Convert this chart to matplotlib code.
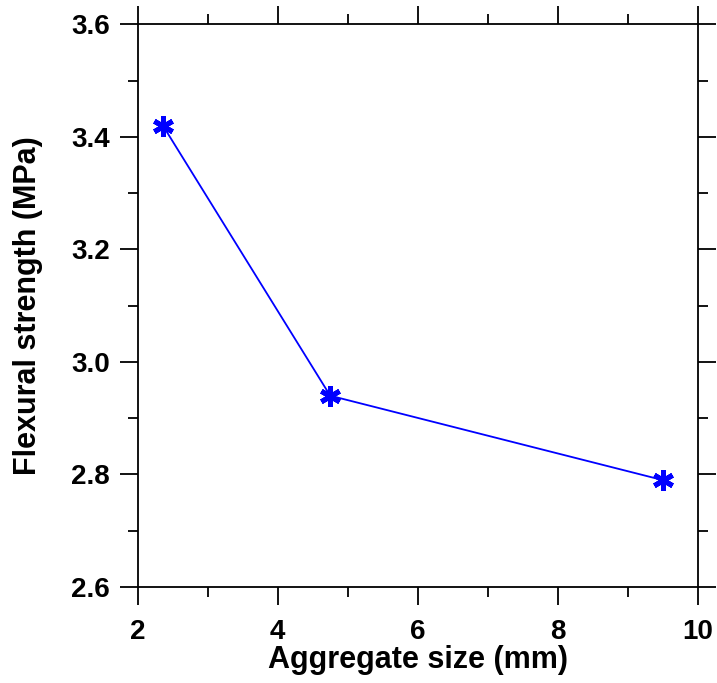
import matplotlib
matplotlib.use("Agg")
import matplotlib.pyplot as plt
from matplotlib.markers import MarkerStyle
from matplotlib.ticker import MultipleLocator, FormatStrFormatter

# aggregate size (mm) vs flexural strength (MPa)
agg_size = [2.36, 4.75, 9.5]
flex_strength = [3.42, 2.94, 2.79]

plt.rcParams['font.family'] = ['Liberation Sans', 'DejaVu Sans']
plt.rcParams['font.weight'] = 'bold'

fig = plt.figure(figsize=(7.17, 6.83), dpi=100)
# axes box in pixels: left 137.7, right 697.7, top 24.3, bottom 587
ax = fig.add_axes([137.7 / 717, (683 - 587) / 683, 560 / 717, 562.7 / 683])

star = MarkerStyle((6, 2, 0), capstyle='round')
ax.plot(agg_size, flex_strength, color='blue', linewidth=1.3,
        marker=star, markersize=15, markeredgewidth=3.6,
        markeredgecolor='blue', markerfacecolor='blue')

ax.set_xlim(2, 10)
ax.set_ylim(2.6, 3.6)
ax.xaxis.set_major_locator(MultipleLocator(2))
ax.xaxis.set_minor_locator(MultipleLocator(1))
ax.yaxis.set_major_locator(MultipleLocator(0.2))
ax.yaxis.set_minor_locator(MultipleLocator(0.1))
ax.yaxis.set_major_formatter(FormatStrFormatter('%.1f'))

for s in ax.spines.values():
    s.set_linewidth(1.3)

ax.tick_params(which='both', direction='out', top=True, right=True,
               width=1.3, labelsize=20)
ax.tick_params(which='major', length=13)
ax.tick_params(which='minor', length=7.5)
ax.tick_params(axis='x', pad=10)
ax.tick_params(axis='y', pad=7)

ax.set_xlabel('Aggregate size (mm)', fontsize=22, fontweight='bold', labelpad=0)
ax.set_ylabel('Flexural strength (MPa)', fontsize=22, fontweight='bold', labelpad=20)

fig.savefig('out.png', dpi=100)
